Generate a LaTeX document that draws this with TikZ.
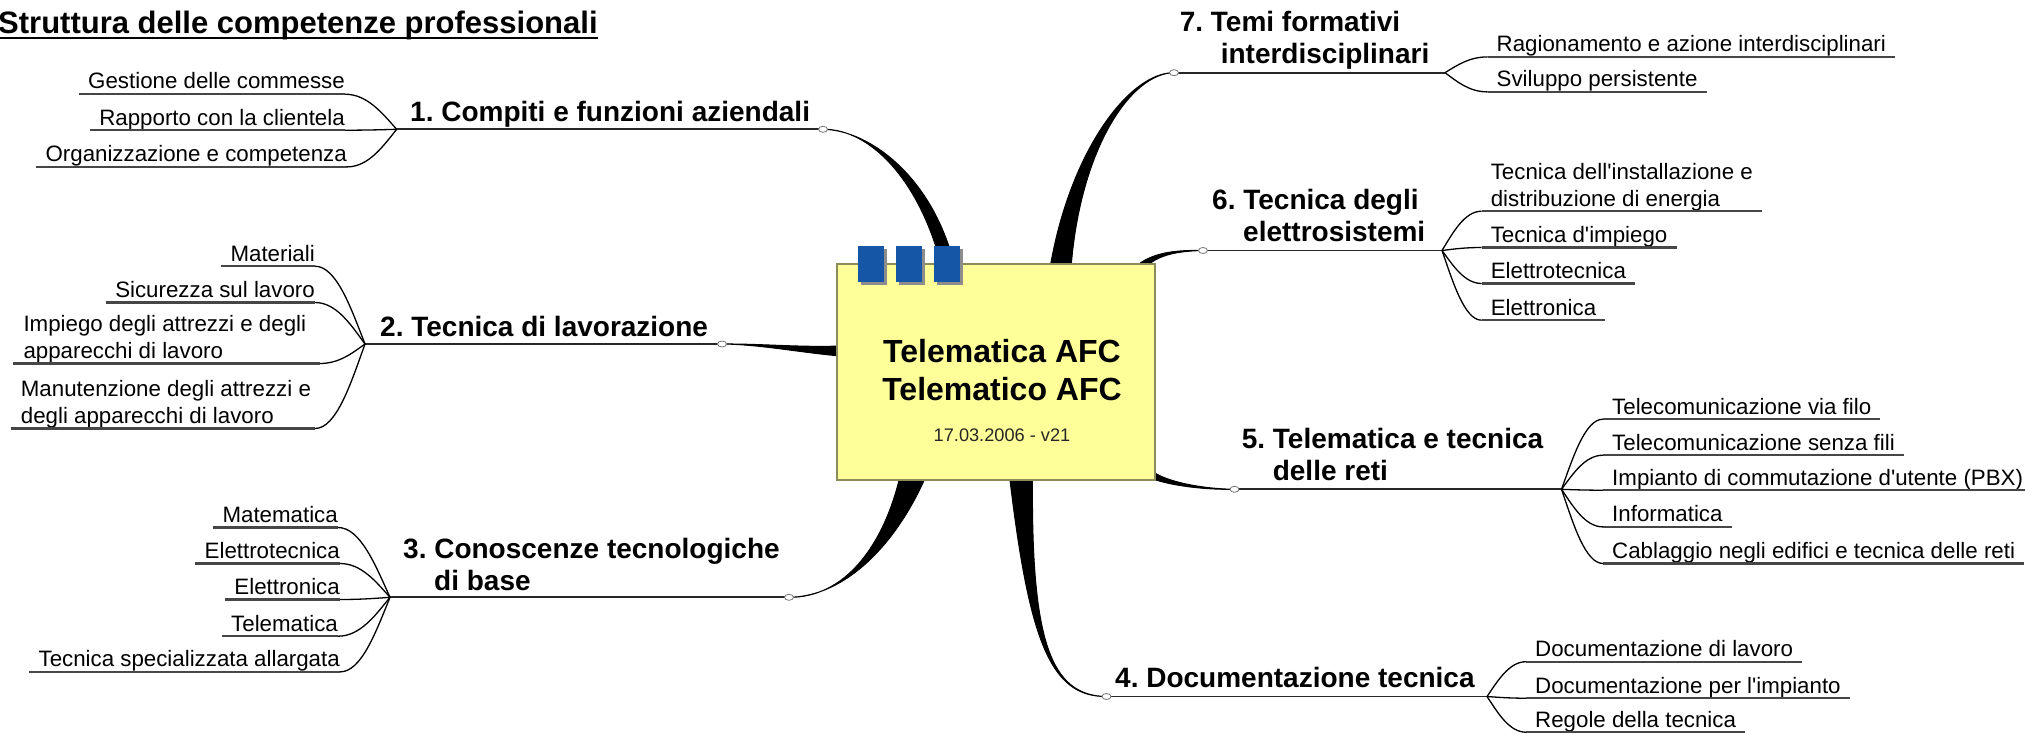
\documentclass[tikz,border=0pt]{standalone}
\usepackage{fontspec}
\setmainfont{Liberation Sans}[Ligatures=TeXOff]
\usetikzlibrary{calc,shapes.geometric,shadows}
\frenchspacing
\definecolor{hubyellow}{RGB}{255,255,153}
\definecolor{hubedge}{RGB}{140,140,90}
\definecolor{tabblue}{RGB}{22,86,166}
\definecolor{lineg}{RGB}{70,70,70}
\tikzset{
  leaf/.style={inner sep=0pt, text depth=5pt, font=\fontsize{22.3}{26.7}\selectfont},
  btitle/.style={inner sep=0pt, font=\fontsize{28}{32}\selectfont\bfseries},
  uline/.style={line width=2.2pt, draw=lineg},
  twig/.style={line width=1.3pt, draw=black},
  stem/.style={line width=1.8pt, draw=black!85},
  knob/.style={ellipse, minimum width=9pt, minimum height=6pt, inner sep=0pt, draw=black!55, fill=white, line width=0.8pt},
  cone/.style={fill=black, draw=black, line width=1pt},
  hubbox/.style={minimum width=318pt, minimum height=216pt, inner sep=0pt, fill=hubyellow, draw=hubedge, line width=1.2pt},
  tabbox/.style={minimum width=26pt, minimum height=36pt, inner sep=0pt, fill=tabblue, drop shadow={shadow xshift=3pt, shadow yshift=-3pt, fill=black!45, opacity=1}},
  hubtitle/.style={inner sep=0pt, font=\fontsize{32}{38}\selectfont\bfseries},
  hubdate/.style={inner sep=0pt, text=black!85, font=\fontsize{18.2}{22}\selectfont},
}
\newcommand\leafL[5]{%
  \node[leaf, anchor=base east] (#1) at (#3,#4) {#5};
  \draw[uline] ([xshift=-9pt]#1.south west) -- (#1.south east);
  \draw[twig] let \p1=(#1.south east), \p2=(#2) in (\p1) .. controls ({\x1+0.43*(\x2-\x1)},{\y1}) and ({\x2-0.28*(\x2-\x1)},{\y2+0.46*(\y1-\y2)}) .. (\p2);
}
\newcommand\leafLm[6]{%
  \node[leaf, anchor=base west] (#1) at (#3,#4) {\begin{tabular}[b]{@{}l@{}}#6\end{tabular}};
  \coordinate (#1e) at (#5,0 |- #1.south);
  \draw[uline] ([xshift=-10pt]#1.south west) -- (#1e);
  \draw[twig] let \p1=(#1e), \p2=(#2) in (\p1) .. controls ({\x1+0.43*(\x2-\x1)},{\y1}) and ({\x2-0.28*(\x2-\x1)},{\y2+0.46*(\y1-\y2)}) .. (\p2);
}
\newcommand\leafR[5]{%
  \node[leaf, anchor=base west] (#1) at (#3,#4) {#5};
  \draw[uline] ([xshift=-9pt]#1.south west) -- ([xshift=9pt]#1.south east);
  \draw[twig] let \p1=(#2), \p2=([xshift=-9pt]#1.south west) in (\p1) .. controls ({\x1+0.28*(\x2-\x1)},{\y1+0.46*(\y2-\y1)}) and ({\x2-0.43*(\x2-\x1)},{\y2}) .. (\p2);
}
\begin{document}
\begin{tikzpicture}[x=1pt,y=-1pt]
\fill[white] (0,0) rectangle (2025,733);
\useasboundingbox (0,0) rectangle (2025,733);

% title
\node[anchor=base west, inner sep=0pt, font=\fontsize{31}{36}\selectfont\bfseries] (ttl) at (-2,33.5) {Struttura delle competenze professionali};
\draw[line width=2.8pt] ([yshift=-4.5pt]ttl.base west) -- ([yshift=-4.5pt]ttl.base east);

% junctions and knobs
\coordinate (j1) at (396.7,129.3);
\coordinate (j2) at (365,344);
\coordinate (j3) at (390,597.3);
\coordinate (j4) at (1487,696.5);
\coordinate (j5) at (1561.5,489.3);
\coordinate (j6) at (1442,250.5);
\coordinate (j7) at (1445,72.7);

\coordinate (k1) at (823,129.3);
\coordinate (k2) at (722,344);
\coordinate (k3) at (789,597.3);
\coordinate (k4) at (1106.5,696.5);
\coordinate (k5) at (1234.5,489.3);
\coordinate (k6) at (1203,250.5);
\coordinate (k7) at (1174,72.7);

\coordinate (hubc) at (996,372);

% tapered connectors
\filldraw[cone] (k1) .. controls (870,128.6) and (920,180) .. (942,268) -- (955,268) .. controls (934,178) and (870,130) .. (k1);
\filldraw[cone] (k7) .. controls (1130,72) and (1070,150) .. (1050,268) -- (1071,268) .. controls (1080,150) and (1130,73.4) .. (k7);
\filldraw[cone] (k6) .. controls (1175,249.8) and (1150.5,252.7) .. (1134.9,267.4) -- (1141.1,272.6) .. controls (1153.5,255.3) and (1175,251.2) .. (k6);
\filldraw[cone] (k5) .. controls (1200,488.7) and (1165.9,481.5) .. (1151.8,471) -- (1148.2,477) .. controls (1164.1,484.5) and (1200,489.9) .. (k5);
\filldraw[cone] (k4) .. controls (1050,695.8) and (1031,640) .. (1032.5,476) -- (1009.5,476) .. controls (1029,640) and (1050,697.2) .. (k4);
\filldraw[cone] (k3) .. controls (845,598) and (884,545) .. (900,476) -- (926,476) .. controls (896,545) and (845,596.6) .. (k3);
\filldraw[cone] (k2) .. controls (760,343.6) and (800,347.5) .. (840,346) -- (840,356) .. controls (800,352.5) and (760,344.4) .. (k2);

% central box
\node[hubbox] (hub) at (hubc) {};
\node[tabbox] (tab1) at (870.5,263.5) {};
\node[tabbox] (tab2) at (909.2,263.5) {};
\node[tabbox] (tab3) at (946.7,263.5) {};
\node[hubtitle, anchor=base] (ht1) at (1002,362) {Telematica AFC};
\node[hubtitle, anchor=base] (ht2) at (1002,400) {Telematico AFC};
\node[hubdate, anchor=base] (hd) at (1002,441.7) {17.03.2006 - v21};

% stems
\draw[stem] (j1) -- (k1);
\draw[stem] (j2) -- (k2);
\draw[stem] (j3) -- (k3);
\draw[stem] (j4) -- (k4);
\draw[stem] (j5) -- (k5);
\draw[stem] (j6) -- (k6);
\draw[stem] (j7) -- (k7);

% branch titles
\node[btitle, anchor=base west] (t1) at (410,121.7) {1. Compiti e funzioni aziendali};
\node[btitle, anchor=base west] (t2) at (380,336) {2. Tecnica di lavorazione};
\node[btitle, anchor=base west] (t3) at (403,590) {\begin{tabular}[b]{@{}l@{}}3. Conoscenze tecnologiche\\\hspace*{31pt}di base\end{tabular}};
\node[btitle, anchor=base west] (t4) at (1115,687) {4. Documentazione tecnica};
\node[btitle, anchor=base west] (t5) at (1241.6,480) {\begin{tabular}[b]{@{}l@{}}5. Telematica e tecnica\\\hspace*{31pt}delle reti\end{tabular}};
\node[btitle, anchor=base west] (t6) at (1212,241.7) {\begin{tabular}[b]{@{}l@{}}6. Tecnica degli\\\hspace*{31pt}elettrosistemi\end{tabular}};
\node[btitle, anchor=base west] (t7) at (1179.6,63.3) {\begin{tabular}[b]{@{}l@{}}7. Temi formativi\\\hspace*{41pt}interdisciplinari\end{tabular}};

% leaves branch 1
\leafL{a1}{j1}{345}{89}{Gestione delle commesse}
\leafL{a2}{j1}{345}{125}{Rapporto con la clientela}
\leafL{a3}{j1}{347}{161.7}{Organizzazione e competenza}
% branch 2
\leafL{b1}{j2}{315}{261}{Materiali}
\leafL{b2}{j2}{315}{297.3}{Sicurezza sul lavoro}
\leafLm{b3}{j2}{23.3}{358.3}{320}{Impiego degli attrezzi e degli\\apparecchi di lavoro}
\leafLm{b4}{j2}{20.7}{423.3}{315}{Manutenzione degli attrezzi e\\degli apparecchi di lavoro}
% branch 3
\leafL{d1}{j3}{338}{522.3}{Matematica}
\leafL{d2}{j3}{340}{558.3}{Elettrotecnica}
\leafL{d3}{j3}{340}{594.3}{Elettronica}
\leafL{d4}{j3}{338}{631}{Telematica}
\leafL{d5}{j3}{340}{666.7}{Tecnica specializzata allargata}
% branch 7
\leafR{g1}{j7}{1496.5}{51.7}{Ragionamento e azione interdisciplinari}
\leafR{g2}{j7}{1496.5}{86.7}{Sviluppo persistente}
% branch 6
\leafR{f1}{j6}{1490.6}{206}{\begin{tabular}[b]{@{}l@{}}Tecnica dell'installazione e\\distribuzione di energia\end{tabular}}
\leafR{f2}{j6}{1490.6}{242.3}{Tecnica d'impiego}
\leafR{f3}{j6}{1490.6}{278.3}{Elettrotecnica}
\leafR{f4}{j6}{1490.6}{315}{Elettronica}
% branch 5
\leafR{e1}{j5}{1612}{414}{Telecomunicazione via filo}
\leafR{e2}{j5}{1612}{450}{Telecomunicazione senza fili}
\leafR{e3}{j5}{1612}{485}{Impianto di commutazione d'utente (PBX)}
\leafR{e4}{j5}{1612}{521.7}{Informatica}
\leafR{e5}{j5}{1612}{558.3}{Cablaggio negli edifici e tecnica delle reti}
% branch 4
\leafR{h1}{j4}{1535}{656.5}{Documentazione di lavoro}
\leafR{h2}{j4}{1535}{693}{Documentazione per l'impianto}
\leafR{h3}{j4}{1535}{727}{Regole della tecnica}

% knobs
\node[knob] (c1) at (k1) {};
\node[knob] (c2) at (k2) {};
\node[knob] (c3) at (k3) {};
\node[knob] (c4) at (k4) {};
\node[knob] (c5) at (k5) {};
\node[knob] (c6) at (k6) {};
\node[knob] (c7) at (k7) {};
\end{tikzpicture}
\end{document}
